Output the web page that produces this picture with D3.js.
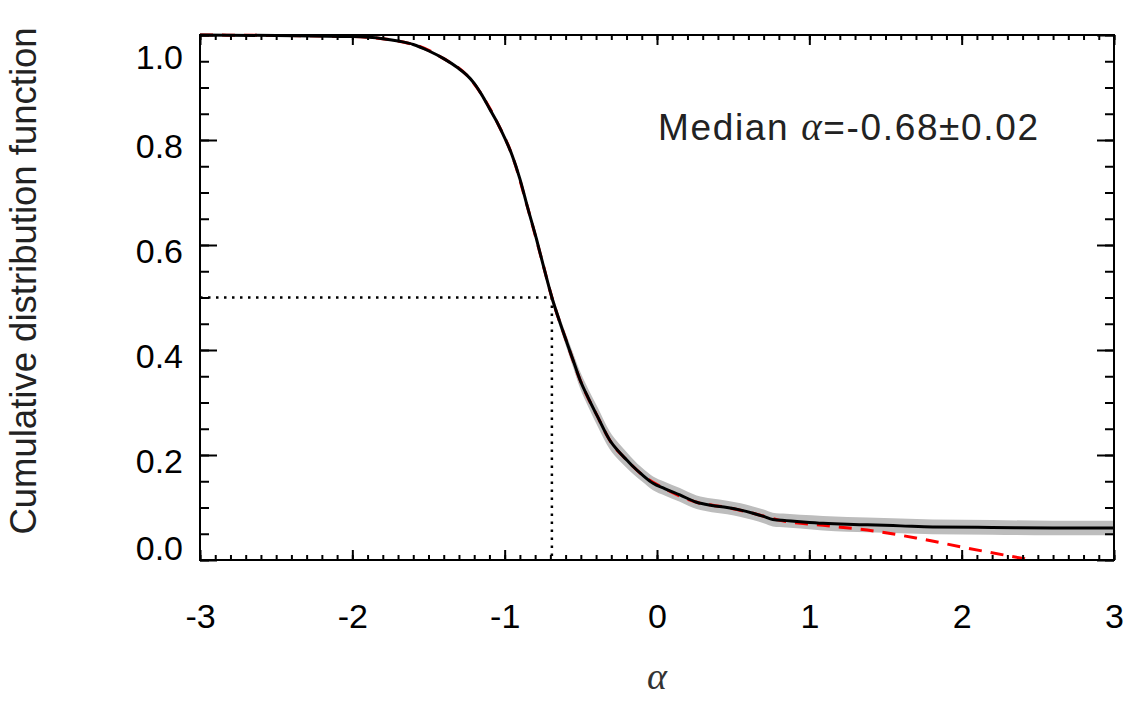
<!DOCTYPE html>
<html>
<head>
<meta charset="utf-8">
<script src="https://cdn.jsdelivr.net/npm/d3@7"></script>
<style>
  body { margin: 0; background: #fff; }
  text { font-family: "Liberation Sans", Arial, Helvetica, sans-serif; }
</style>
</head>
<body>
<svg id="chart" width="1146" height="707"></svg>
<script>
'use strict';

// data
var alphaCdf = [-3.0, -2.5, -2.0, -1.8, -1.69, -1.6, -1.5, -1.4, -1.31, -1.25, -1.2, -1.15, -1.1, -1.05,
  -1.0, -0.95, -0.9, -0.85, -0.79, -0.75, -0.69, -0.64, -0.59, -0.55, -0.505, -0.45, -0.39, -0.31,
  -0.25, -0.197, -0.157, -0.1, -0.026, 0.05, 0.15, 0.26, 0.36, 0.46, 0.55, 0.63, 0.7, 0.76, 0.85,
  0.94, 1.09, 1.25, 1.38, 1.6, 1.81, 2.2, 2.6, 3.0];
var cdfValues = [1.0, 0.999, 0.997, 0.993, 0.988, 0.982, 0.97, 0.955, 0.938, 0.924, 0.908, 0.886, 0.86, 0.834,
  0.804, 0.77, 0.726, 0.672, 0.61, 0.565, 0.5, 0.455, 0.413, 0.38, 0.343, 0.308, 0.273, 0.228,
  0.206, 0.19, 0.178, 0.163, 0.146, 0.136, 0.124, 0.11, 0.104, 0.1, 0.095, 0.089, 0.083, 0.077, 0.075,
  0.073, 0.07, 0.068, 0.067, 0.065, 0.063, 0.062, 0.061, 0.061];
var cdfErr = [0.001, 0.001, 0.001, 0.002, 0.002, 0.002, 0.003, 0.003, 0.003, 0.003, 0.004, 0.004, 0.004, 0.004,
  0.004, 0.005, 0.005, 0.006, 0.007, 0.008, 0.009, 0.01, 0.012, 0.014, 0.016, 0.017, 0.018, 0.017,
  0.016, 0.015, 0.014, 0.013, 0.013, 0.013, 0.013, 0.013, 0.013, 0.013, 0.013, 0.013, 0.013, 0.013, 0.013,
  0.013, 0.014, 0.014, 0.014, 0.014, 0.014, 0.014, 0.014, 0.014];

// red dashed model: follows the data, then falls to zero
var alphaModel = [-3.0, -2.0, -1.6, -1.4, -1.25, -1.15, -1.05, -0.95, -0.85, -0.75, -0.69, -0.59, -0.505,
  -0.39, -0.31, -0.197, -0.1, 0.05, 0.26, 0.46, 0.63, 0.8, 1.09, 1.38, 1.7, 2.03, 2.46];
var modelValues = [1.0, 0.997, 0.982, 0.955, 0.924, 0.886, 0.834, 0.77, 0.672, 0.565, 0.5, 0.413, 0.343,
  0.273, 0.228, 0.19, 0.163, 0.136, 0.11, 0.1, 0.089, 0.076, 0.066, 0.057, 0.042, 0.023, 0.0];

var medianAlpha = -0.69;
var xTicks = [-3, -2, -1, 0, 1, 2, 3];
var yTicks = [0.0, 0.2, 0.4, 0.6, 0.8, 1.0];

var svg = d3.select('#chart');
var pLeft = 200, pRight = 1114, pTop = 35, pBottom = 560;

var x = d3.scaleLinear().domain([-3, 3]).range([pLeft, pRight]);
var y = d3.scaleLinear().domain([0, 1]).range([pBottom, pTop]);

var pts = alphaCdf.map(function (a, i) { return { a: a, f: cdfValues[i], e: cdfErr[i] }; });
var model = alphaModel.map(function (a, i) { return { a: a, f: modelValues[i] }; });

svg.append('clipPath').attr('id', 'clip').append('rect')
  .attr('x', pLeft).attr('y', pTop - 2).attr('width', pRight - pLeft).attr('height', pBottom - pTop + 2);

var plot = svg.append('g').attr('clip-path', 'url(#clip)');

// grey band
plot.append('path').datum(pts)
  .attr('d', d3.area().curve(d3.curveMonotoneX)
    .x(function (d) { return x(d.a); })
    .y0(function (d) { return y(d.f - d.e); })
    .y1(function (d) { return y(d.f + d.e); }))
  .attr('fill', '#bdbdbd');

// red dashed
plot.append('path').datum(model)
  .attr('d', d3.line().curve(d3.curveMonotoneX).x(function (d) { return x(d.a); }).y(function (d) { return y(d.f); }))
  .attr('fill', 'none').attr('stroke', '#ff0000').attr('stroke-width', 3)
  .attr('stroke-dasharray', '13,9');

// black line
plot.append('path').datum(pts)
  .attr('d', d3.line().curve(d3.curveMonotoneX).x(function (d) { return x(d.a); }).y(function (d) { return y(d.f); }))
  .attr('fill', 'none').attr('stroke', '#000').attr('stroke-width', 3).attr('stroke-linejoin', 'round');

// median dotted lines
svg.append('line')
  .attr('x1', pLeft).attr('x2', x(medianAlpha)).attr('y1', y(0.5)).attr('y2', y(0.5))
  .attr('stroke', '#000').attr('stroke-width', 2.5).attr('stroke-dasharray', '2.5,5.5');
svg.append('line')
  .attr('x1', x(medianAlpha)).attr('x2', x(medianAlpha)).attr('y1', y(0.5)).attr('y2', pBottom)
  .attr('stroke', '#000').attr('stroke-width', 2.5).attr('stroke-dasharray', '2.5,5.5');

// axes
var xMinor = d3.range(-3, 3.001, 0.1);
var yMinor = d3.range(0, 1.001, 0.05);
var fmtX = function (d) { return d3.format('d')(d).replace('\u2212', '-'); };

function styleAxis(g) {
  g.select('.domain').remove();
  g.selectAll('.tick line').attr('stroke', '#000').attr('stroke-width', 2);
  g.selectAll('.tick text').attr('fill', '#000').style('font-size', '34px');
}

svg.append('g').attr('transform', 'translate(0,' + pBottom + ')')
  .call(d3.axisBottom(x).tickValues(xMinor).tickSizeInner(-5).tickSizeOuter(0).tickFormat(''))
  .call(styleAxis);
svg.append('g').attr('transform', 'translate(0,' + pBottom + ')')
  .call(d3.axisBottom(x).tickValues(xTicks).tickSizeInner(-10).tickSizeOuter(0).tickPadding(44).tickFormat(fmtX))
  .call(styleAxis);
svg.append('g').attr('transform', 'translate(0,' + pTop + ')')
  .call(d3.axisTop(x).tickValues(xMinor).tickSizeInner(-5).tickSizeOuter(0).tickFormat(''))
  .call(styleAxis);
svg.append('g').attr('transform', 'translate(0,' + pTop + ')')
  .call(d3.axisTop(x).tickValues(xTicks).tickSizeInner(-10).tickSizeOuter(0).tickFormat(''))
  .call(styleAxis);

svg.append('g').attr('transform', 'translate(' + pLeft + ',0)')
  .call(d3.axisLeft(y).tickValues(yMinor).tickSizeInner(-9).tickSizeOuter(0).tickFormat(''))
  .call(styleAxis);
var yAx = svg.append('g').attr('transform', 'translate(' + pLeft + ',0)')
  .call(d3.axisLeft(y).tickValues(yTicks).tickSizeInner(-17).tickSizeOuter(0).tickPadding(17).tickFormat(d3.format('.1f')))
  .call(styleAxis);
// edge labels sit inside the axis range, as in the original
yAx.selectAll('.tick text').attr('dy', function (d) {
  if (d === 1) return '0.98em';
  if (d === 0) return '-0.02em';
  return '0.5em';
});
svg.append('g').attr('transform', 'translate(' + pRight + ',0)')
  .call(d3.axisRight(y).tickValues(yMinor).tickSizeInner(-9).tickSizeOuter(0).tickFormat(''))
  .call(styleAxis);
svg.append('g').attr('transform', 'translate(' + pRight + ',0)')
  .call(d3.axisRight(y).tickValues(yTicks).tickSizeInner(-17).tickSizeOuter(0).tickFormat(''))
  .call(styleAxis);

// frame
svg.append('rect').attr('x', pLeft).attr('y', pTop).attr('width', pRight - pLeft).attr('height', pBottom - pTop)
  .attr('fill', 'none').attr('stroke', '#000').attr('stroke-width', 2);

// titles
svg.append('text')
  .attr('transform', 'translate(36,281) rotate(-90)')
  .attr('text-anchor', 'middle').attr('fill', '#222').style('font-size', '36.5px')
  .text('Cumulative distribution function');

svg.append('text')
  .attr('x', (pLeft + pRight) / 2).attr('y', 689).attr('text-anchor', 'middle')
  .attr('fill', '#333').style('font-family', '"Liberation Serif", "DejaVu Serif", serif')
  .style('font-style', 'italic').style('font-size', '38px')
  .text('\u03b1');

var med = svg.append('text').attr('x', 658).attr('y', 140).attr('fill', '#222').style('font-size', '37px')
  .attr('textLength', 380).attr('lengthAdjust', 'spacing');
med.append('tspan').text('Median ');
med.append('tspan').style('font-family', '"Liberation Serif", "DejaVu Serif", serif')
  .style('font-style', 'italic').style('font-size', '39px').text('\u03b1');
med.append('tspan').text('=-0.68\u00b10.02');
</script>
</body>
</html>
